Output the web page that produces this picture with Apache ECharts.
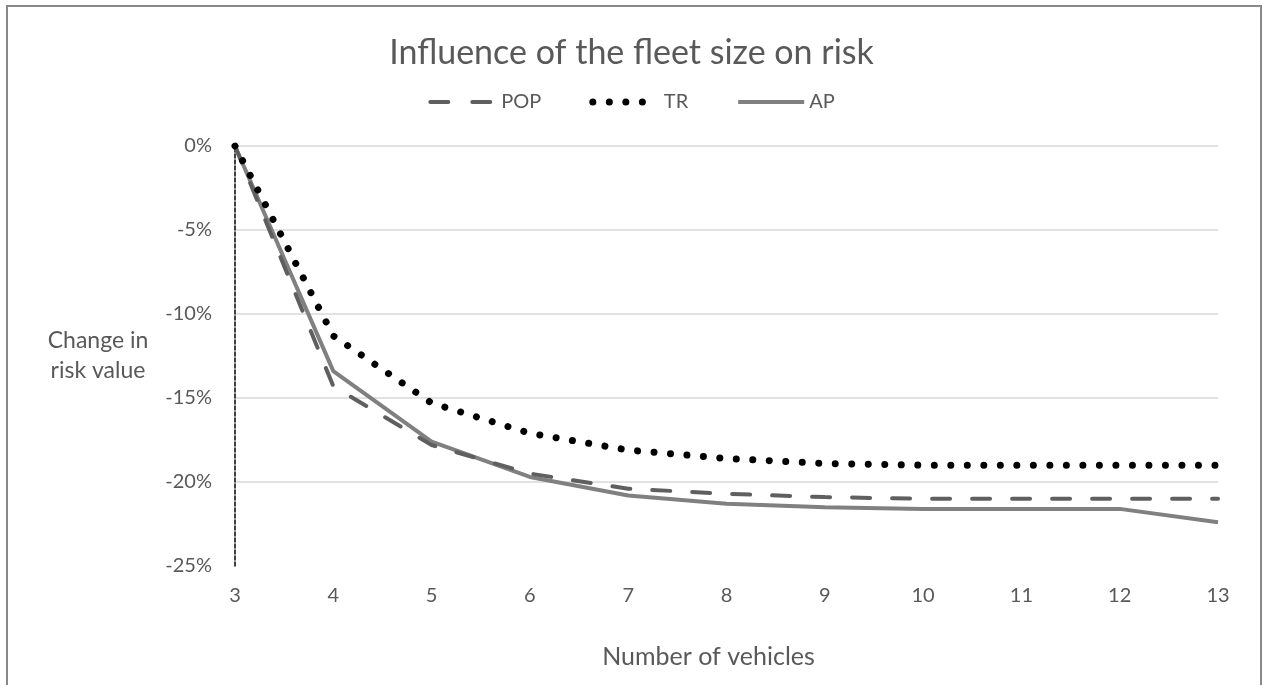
<!DOCTYPE html>
<html>
<head>
<meta charset="utf-8">
<script src="https://cdn.jsdelivr.net/npm/echarts@6/dist/echarts.min.js"></script>
<style>
  html, body { margin: 0; padding: 0; background: #fff; }
  #chart { width: 1263px; height: 685px; }
</style>
</head>
<body>
<div id="chart"></div>
<script>
// number of vehicles
const vehicles = [3, 4, 5, 6, 7, 8, 9, 10, 11, 12, 13]
// change in risk value (%)
const popValues = [0, -14.3, -17.8, -19.5, -20.4, -20.7, -20.9, -21.0, -21.0, -21.0, -21.0]
const trValues = [0, -11.3, -15.3, -17.1, -18.1, -18.6, -18.9, -19.0, -19.0, -19.0, -19.0]
const apValues = [0, -13.4, -17.6, -19.7, -20.8, -21.3, -21.5, -21.6, -21.6, -21.6, -22.4]
const yTicks = [0, -5, -10, -15, -20, -25]

const textColor = '#595959'
const font = 'Lato, "Open Sans", sans-serif'

// 三条线的样式
const popLine = { color: '#5f5f5f', width: 4, type: [18, 22], cap: 'round' }
const trLine = { color: '#000', width: 7, type: [0.01, 16.5], cap: 'round' }
const apLine = { color: '#808080', width: 4 }

const chart = echarts.init(document.getElementById('chart'))

//把x和y拼成点
const pairs = (vals) => vehicles.map((v, i) => [v, vals[i]])

const option = {
  backgroundColor: '#fff',
  animation: false,
  textStyle: { fontFamily: font },
  title: {
    text: 'Influence of the fleet size on risk',
    left: 'center',
    top: 31,
    textStyle: { fontSize: 34, fontWeight: 'normal', color: textColor, fontFamily: font }
  },
  legend: {
    top: 87,
    left: 'center',
    itemWidth: 66,
    itemHeight: 24,
    itemGap: 48,
    textStyle: { fontSize: 20, color: textColor, fontFamily: font },
    data: [
      { name: 'POP', itemStyle: { opacity: 0 }, lineStyle: { ...popLine, type: [18, 24] } },
      { name: 'TR', itemStyle: { opacity: 0 }, lineStyle: trLine },
      { name: 'AP', itemStyle: { opacity: 0 }, lineStyle: apLine }
    ]
  },
  graphic: [
    {
      type: 'rect',
      shape: { x: 7, y: 6, width: 1254, height: 720 },
      style: { fill: 'none', stroke: '#898989', lineWidth: 2 },
      silent: true
    }
  ],
  grid: { left: 235, right: 45, top: 146, bottom: 119 },
  xAxis: {
    type: 'value',
    min: 3,
    max: 13,
    interval: 1,
    name: 'Number of vehicles',
    nameLocation: 'middle',
    nameGap: 78,
    nameTextStyle: { fontSize: 25, color: textColor, fontFamily: font, padding: [0, 36, 0, 0] },
    axisLine: { show: false },
    axisTick: { show: false },
    splitLine: { show: false },
    axisLabel: { fontSize: 20, color: textColor, margin: 20, fontFamily: font }
  },
  yAxis: {
    type: 'value',
    min: yTicks[yTicks.length - 1],
    max: yTicks[0],
    interval: 5,
    name: 'Change in\nrisk value',
    nameLocation: 'middle',
    nameRotate: 0,
    nameGap: 137,
    nameTextStyle: { fontSize: 23, color: textColor, lineHeight: 30, align: 'center', fontFamily: font },
    axisLine: { show: true, onZero: false, lineStyle: { color: '#000', width: 1.5, type: [4, 2] } },
    axisTick: { show: false },
    axisLabel: { fontSize: 20, color: textColor, margin: 23, formatter: '{value}%', fontFamily: font },
    splitLine: { show: true, showMinLine: false, lineStyle: { color: '#d9d9d9', width: 1.5 } }
  },
  series: [
    {
      name: 'POP',
      type: 'line',
      symbol: 'none',
      data: pairs(popValues),
      itemStyle: { color: '#5f5f5f' },
      lineStyle: popLine,
      z: 3
    },
    {
      name: 'TR',
      type: 'line',
      symbol: 'none',
      data: pairs(trValues),
      itemStyle: { color: '#000' },
      lineStyle: trLine,
      z: 4
    },
    {
      name: 'AP',
      type: 'line',
      symbol: 'none',
      data: pairs(apValues),
      itemStyle: { color: '#808080' },
      lineStyle: apLine,
      z: 2
    }
  ]
}
chart.setOption(option)
</script>
</body>
</html>
